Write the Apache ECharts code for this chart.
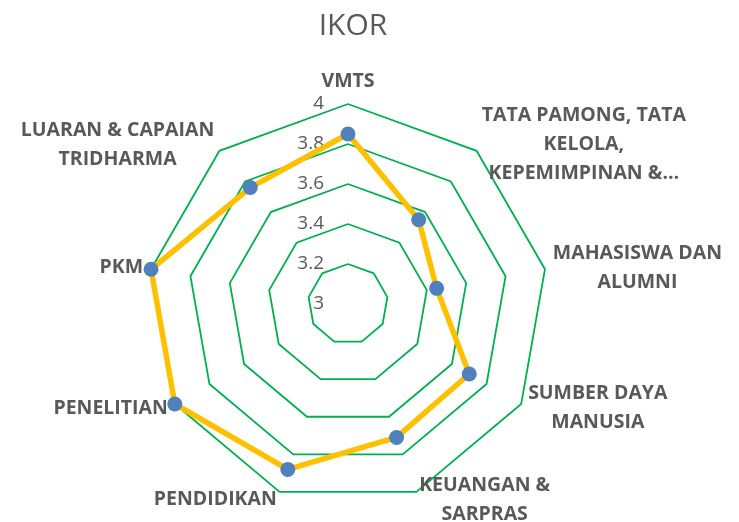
<!DOCTYPE html>
<html>
<head>
<meta charset="utf-8">
<script src="https://cdn.jsdelivr.net/npm/echarts@6/dist/echarts.min.js"></script>
<style>
  html, body { margin: 0; padding: 0; background: #fff; }
  #chart { width: 739px; height: 522px; }
</style>
</head>
<body>
<div id="chart"></div>
<script>
// indicators in clockwise order starting from the top (as in the picture)
var categories = [
  'VMTS',
  'TATA PAMONG, TATA\nKELOLA,\nKEPEMIMPINAN &…',
  'MAHASISWA DAN\nALUMNI',
  'SUMBER DAYA\nMANUSIA',
  'KEUANGAN &\nSARPRAS',
  'PENDIDIKAN',
  'PENELITIAN',
  'PKM',
  'LUARAN & CAPAIAN\nTRIDHARMA'
];
var ikorValues = [3.85, 3.55, 3.45, 3.70, 3.71, 3.88, 4.00, 4.00, 3.76];
var scaleMin = 3;
var scaleMax = 4;
var scaleStep = 0.2;

// echarts lays radar indicators out counter-clockwise, so flip everything after the first
function clockwise(arr) {
  return [arr[0]].concat(arr.slice(1).reverse());
}

var chart = echarts.init(document.getElementById('chart'));

var option = {
  backgroundColor: '#fff',
  title: {
    text: 'IKOR',
    left: 348,
    textAlign: 'center',
    top: 6,
    textStyle: {
      color: '#595959',
      fontSize: 30,
      fontWeight: 'normal',
      fontFamily: 'Open Sans'
    }
  },
  // value labels drawn along the VMTS spoke
  grid: { left: 348, top: 104, width: 1, height: 200 },
  xAxis: { type: 'value', show: false },
  yAxis: {
    type: 'value',
    min: scaleMin,
    max: scaleMax,
    interval: scaleStep,
    axisLine: { show: false },
    axisTick: { show: false },
    splitLine: { show: false },
    axisLabel: {
      margin: 24,
      color: '#595959',
      fontSize: 19,
      fontFamily: 'Open Sans'
    }
  },
  radar: {
    center: [348, 304],
    radius: 200,
    startAngle: 90,
    shape: 'polygon',
    splitNumber: 5,
    axisNameGap: 8,
    axisName: {
      color: '#595959',
      fontWeight: 'bold',
      fontSize: 19.5,
      fontFamily: 'Open Sans',
      lineHeight: 29,
      formatter: function (name) {
        return name.split('\n').map(function (s) { return '{c|' + s + '}'; }).join('\n');
      },
      rich: {
        c: { align: 'center' }
      }
    },
    axisLine: { show: false },
    splitArea: { show: false },
    splitLine: {
      lineStyle: { color: '#00B050', width: 1.8 }
    },
    indicator: clockwise(categories).map(function (c) {
      return { name: c, min: scaleMin, max: scaleMax };
    })
  },
  series: [{
    name: 'IKOR',
    type: 'radar',
    symbol: 'circle',
    symbolSize: 15,
    itemStyle: { color: '#4F81BD' },
    lineStyle: { color: '#FFC000', width: 5.5 },
    z: 3,
    data: [{ name: 'IKOR', value: clockwise(ikorValues) }]
  }]
};

chart.setOption(option);
</script>
</body>
</html>
